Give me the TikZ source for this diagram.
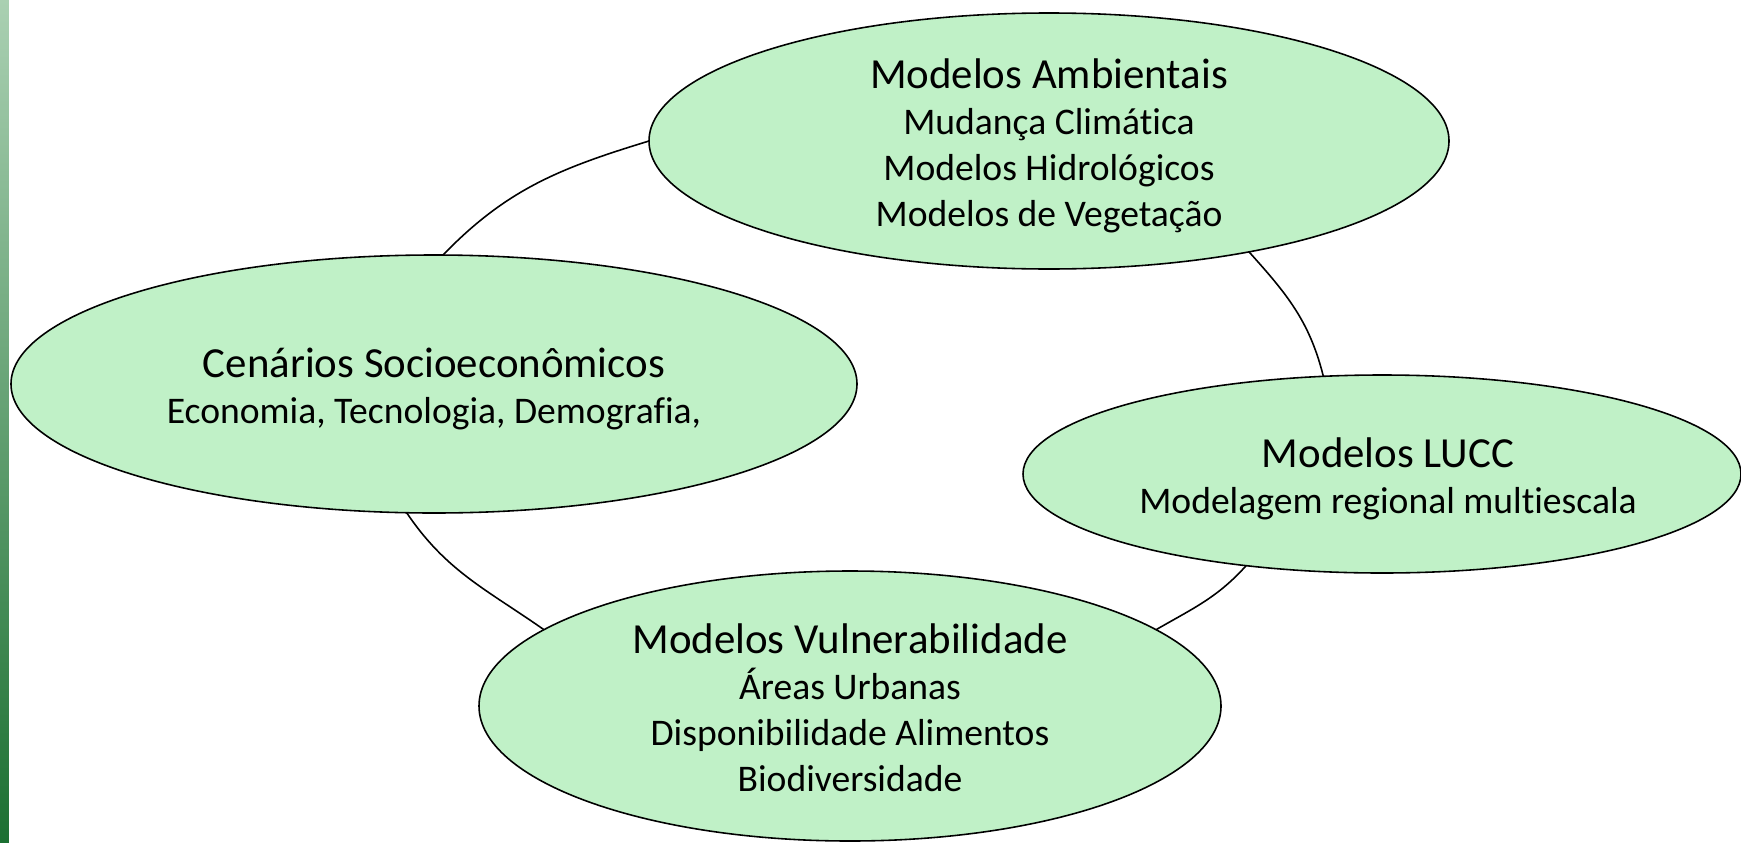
\documentclass[tikz,border=0pt]{standalone}
\usepackage{fontspec}
\setmainfont{Carlito}[Ligatures=NoCommon]
\usetikzlibrary{shapes.geometric}

\definecolor{bubblegreen}{RGB}{192,241,199}
\definecolor{bartop}{RGB}{170,208,178}
\definecolor{barbottom}{RGB}{28,112,50}
\newcommand\bubtitle[1]{{\fontsize{12.2}{13.1}\selectfont #1}}
% text block of a bubble, lowered a little, taking no room of its own
\newcommand\bubtext[2][0pt]{\makebox[0pt]{\hspace*{#1}\raisebox{-4.8pt}[0pt][0pt]{%
    \setlength\tabcolsep{0pt}\begin{tabular}{c}#2\end{tabular}}}}

\begin{document}
\begin{tikzpicture}[
    bubble/.style={ellipse, draw, line width=0.45pt, fill=bubblegreen, inner sep=0pt, outer sep=0pt, font=\fontsize{10.7}{13.1}\selectfont},
    link/.style={line width=0.45pt}
]
\useasboundingbox (0,0) rectangle (17.41,8.42);
\shade[top color=bartop, bottom color=barbottom] (0,0) rectangle (0.09,8.42);

\node[bubble, minimum width=8.00cm, minimum height=2.56cm] (amb) at (10.49,7.01)
    {\bubtext{\bubtitle{Modelos Ambientais}\\Mudança Climática\\Modelos Hidrológicos\\Modelos de Vegetação}};
\node[bubble, minimum width=8.46cm, minimum height=2.58cm] (cen) at (4.34,4.58)
    {\bubtext{\bubtitle{Cenários Socioeconômicos}\\Economia, Tecnologia, Demografia,}};
\node[bubble, minimum width=7.18cm, minimum height=1.98cm] (lucc) at (13.82,3.68)
    {\bubtext[0.12cm]{\bubtitle{Modelos LUCC}\\Modelagem regional multiescala}};
\node[bubble, minimum width=7.42cm, minimum height=2.70cm] (vuln) at (8.50,1.36)
    {\bubtext{\bubtitle{Modelos Vulnerabilidade}\\Áreas Urbanas\\Disponibilidade Alimentos\\Biodiversidade}};

\draw[link] (cen.86) to[out=46, in=197] (amb.180);
\draw[link] (amb.-29) to[out=-48, in=104] (lucc.121);
\draw[link] (lucc.214) to[out=228, in=30] (vuln.14);
\draw[link] (cen.258) to[out=-56, in=145] (vuln.166);
\end{tikzpicture}
\end{document}
